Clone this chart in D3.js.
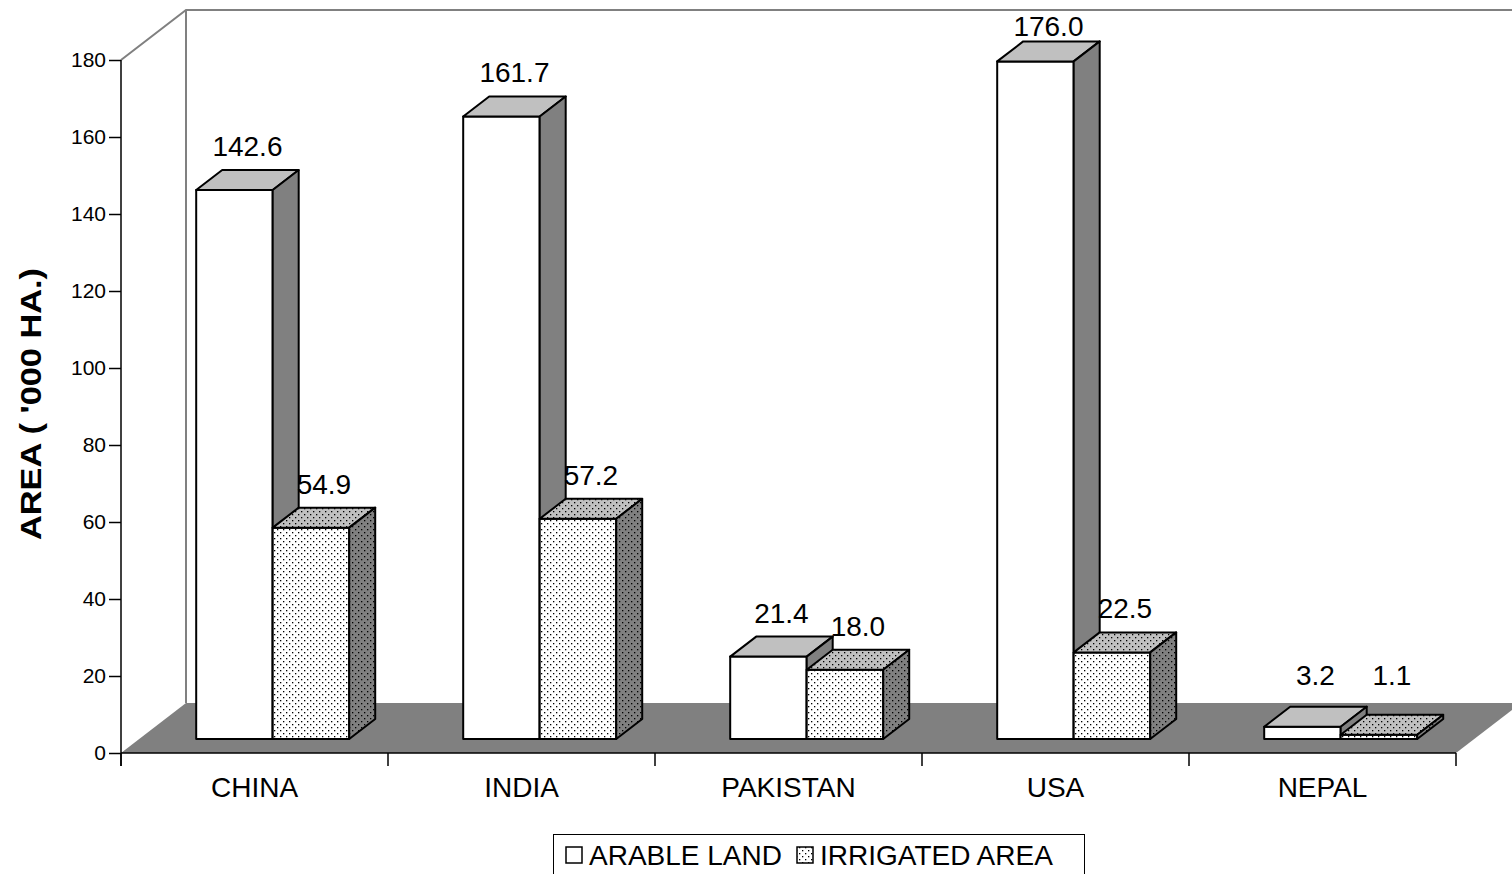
<!DOCTYPE html>
<html>
<head>
<meta charset="utf-8">
<script src="https://cdn.jsdelivr.net/npm/d3@7"></script>
<style>
  body { margin: 0; background: #fff; }
  svg { display: block; font-family: Arial, "Liberation Sans", sans-serif; }
</style>
</head>
<body>
<div id="chart"></div>
<script>
// data
const countries = ['CHINA', 'INDIA', 'PAKISTAN', 'USA', 'NEPAL']
const series = ['ARABLE LAND', 'IRRIGATED AREA']
const arable = [142.6, 161.7, 21.4, 176.0, 3.2]
const irrigated = [54.9, 57.2, 18.0, 22.5, 1.1]
const yTicks = [0, 20, 40, 60, 80, 100, 120, 140, 160, 180]

const width = 1512, height = 874

// 3d depth of the plot box, and where the bars sit inside it
const depth = { dx: 65, dy: -50 }
const barFront = 0.28
const barDepth = 0.4

let svg = d3.select('#chart')
  .append('svg')
  .attr('width', width)
  .attr('height', height)

let defs = svg.append('defs')
let makeDots = (id, bg) => {
  let p = defs.append('pattern')
    .attr('id', id)
    .attr('patternUnits', 'userSpaceOnUse')
    .attr('width', 6)
    .attr('height', 6)
  p.append('rect').attr('width', 6).attr('height', 6).attr('fill', bg)
  p.append('rect').attr('x', 1).attr('y', 1).attr('width', 1.3).attr('height', 1.3).attr('fill', '#000')
  p.append('rect').attr('x', 4).attr('y', 4).attr('width', 1.3).attr('height', 1.3).attr('fill', '#000')
}
makeDots('dotsFront', '#fff')
makeDots('dotsTop', '#c0c0c0')
makeDots('dotsSide', '#808080')

let x = d3.scaleBand()
  .domain(countries)
  .range([121, 1456])

let xs = d3.scaleBand()
  .domain(series)
  .range([0, x.bandwidth()])
  .paddingOuter(0.745)

let y = d3.scaleLinear()
  .domain([0, 180])
  .range([753, 60])

let x0 = x.range()[0], x1 = x.range()[1]
let y0 = y(0)

// floor
svg.append('polygon')
  .attr('points', [[x0, y0], [x1, y0], [x1 + depth.dx, y0 + depth.dy], [x0 + depth.dx, y0 + depth.dy]].join(' '))
  .attr('fill', '#808080')

// walls
svg.append('path')
  .attr('d', `M${x0},${y(180)} L${x0 + depth.dx},${y(180) + depth.dy} L${width + 10},${y(180) + depth.dy}
              M${x0 + depth.dx},${y(180) + depth.dy} L${x0 + depth.dx},${y0 + depth.dy}`)
  .attr('fill', 'none')
  .attr('stroke', '#808080')
  .attr('stroke-width', 2)

// y axis
svg.append('g')
  .attr('transform', `translate(${x0}, 0)`)
  .call(d3.axisLeft(y).tickValues(yTicks).tickSize(12).tickPadding(3))
  .call(g => g.select('.domain').remove())
  .call(g => g.selectAll('.tick line').attr('stroke', '#000').attr('stroke-width', 1.5))
  .call(g => g.selectAll('.tick text')
    .attr('font-family', 'Arial, "Liberation Sans", sans-serif')
    .attr('font-size', '21px')
    .attr('fill', '#000'))

svg.append('line')
  .attr('x1', x0).attr('x2', x0)
  .attr('y1', y(180)).attr('y2', y0 + 13)
  .attr('stroke', '#000').attr('stroke-width', 1.5)

// x axis
svg.append('line')
  .attr('x1', x0).attr('x2', x1)
  .attr('y1', y0).attr('y2', y0)
  .attr('stroke', '#000').attr('stroke-width', 1.5)

svg.append('g').selectAll('line')
  .data(countries.map(c => x(c)).concat([x1]))
  .enter().append('line')
  .attr('x1', d => d).attr('x2', d => d)
  .attr('y1', y0).attr('y2', y0 + 13)
  .attr('stroke', '#000').attr('stroke-width', 1.5)

svg.append('g').selectAll('text')
  .data(countries)
  .enter().append('text')
  .attr('x', d => x(d) + x.bandwidth() / 2)
  .attr('y', 797)
  .attr('text-anchor', 'middle')
  .attr('font-size', '28px')
  .text(d => d)

// y title
svg.append('text')
  .attr('transform', 'translate(41, 404) rotate(-90)')
  .attr('text-anchor', 'middle')
  .attr('font-size', '30px')
  .attr('font-weight', 'bold')
  .attr('textLength', 272)
  .attr('lengthAdjust', 'spacingAndGlyphs')
  .text("AREA ( '000 HA.)")

// bars
let bars = []
countries.forEach((c, i) => {
  bars.push({ country: c, s: series[0], v: arable[i], irrigated: false })
  bars.push({ country: c, s: series[1], v: irrigated[i], irrigated: true })
})

let fx = depth.dx * barFront, fy = depth.dy * barFront
let bdx = depth.dx * barDepth, bdy = depth.dy * barDepth

let barG = svg.append('g')
  .attr('stroke', '#000')
  .attr('stroke-width', 2)
  .attr('stroke-linejoin', 'round')

bars.forEach(b => {
  let xl = x(b.country) + xs(b.s) + fx
  let xr = xl + xs.bandwidth()
  let yb = y0 + fy
  let yt = y(b.v) + fy
  let g = barG.append('g')

  g.append('rect')
    .attr('x', xl).attr('y', yt)
    .attr('width', xr - xl).attr('height', yb - yt)
    .attr('fill', b.irrigated ? 'url(#dotsFront)' : '#fff')

  g.append('polygon')
    .attr('points', [[xl, yt], [xr, yt], [xr + bdx, yt + bdy], [xl + bdx, yt + bdy]].join(' '))
    .attr('fill', b.irrigated ? 'url(#dotsTop)' : '#c0c0c0')

  g.append('polygon')
    .attr('points', [[xr, yt], [xr + bdx, yt + bdy], [xr + bdx, yb + bdy], [xr, yb]].join(' '))
    .attr('fill', b.irrigated ? 'url(#dotsSide)' : '#808080')

  let ly = Math.min(Math.max(yt + bdy - 14, 36), 685)
  svg.append('text')
    .attr('x', (xl + xr) / 2 + bdx / 2)
    .attr('y', ly)
    .attr('text-anchor', 'middle')
    .attr('font-size', '28px')
    .text(b.v.toFixed(1))
})

// legend
let legend = svg.append('g')
legend.append('rect')
  .attr('x', 553.5).attr('y', 834.5)
  .attr('width', 531).attr('height', 50)
  .attr('fill', '#fff')
  .attr('stroke', '#000')
  .attr('stroke-width', 1)

let legendItems = [
  { label: series[0], x: 566, fill: '#fff' },
  { label: series[1], x: 797, fill: 'url(#dotsFront)' }
]
legendItems.forEach(d => {
  legend.append('rect')
    .attr('x', d.x).attr('y', 847)
    .attr('width', 16).attr('height', 16)
    .attr('fill', d.fill)
    .attr('stroke', '#000')
    .attr('stroke-width', 1.5)
  legend.append('text')
    .attr('x', d.x + 23)
    .attr('y', 865)
    .attr('font-size', '28px')
    .text(d.label)
})
</script>
</body>
</html>
